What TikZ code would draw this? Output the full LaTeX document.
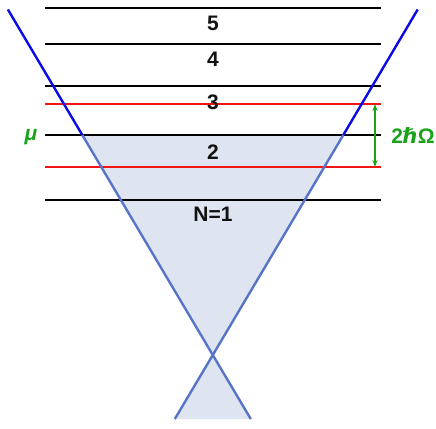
\documentclass[tikz,border=0pt]{standalone}
\usepackage{fontspec}
\setmainfont{Liberation Sans}
\newfontfamily\dejavu{DejaVu Sans}
\usetikzlibrary{arrows.meta,calc}
\definecolor{levgreen}{RGB}{26,163,26}
\definecolor{fillblue}{RGB}{223,229,240}
\definecolor{coneblue}{RGB}{88,116,200}
\definecolor{topblue}{RGB}{10,10,230}
\definecolor{levred}{RGB}{240,20,20}
\tikzset{
  level/.style={line width=2.2pt, color=black},
  shell/.style={line width=2.2pt, color=levred},
  lab/.style={font=\fontsize{21}{25}\selectfont\bfseries, text=black!93, inner sep=0pt},
  greenlab/.style={font=\fontsize{21}{25}\selectfont\bfseries, text=levgreen, inner sep=0pt}
}
\begin{document}
\begin{tikzpicture}[x=1pt, y=-1pt]
\useasboundingbox (0,0) rectangle (436,428);
%
% Cone points
\coordinate (tl) at (7.9,9.5);
\coordinate (tr) at (417.7,9.5);
\coordinate (ml) at (82.3,135);
\coordinate (mr) at (343.3,135);
\coordinate (x) at (212.8,355);
\coordinate (bl) at (174.8,419);
\coordinate (br) at (250.8,419);
% Filled part below mu
\fill[fillblue] (ml) -- (mr) -- (x) -- (br) -- (bl) -- (x) -- cycle;
% Levels
\foreach \y in {8,44,86,135,200}
  \draw[level] (45,\y) -- (381,\y);
%Red levels
\draw[shell] (45,104) coordinate (ra) -- (381,104) coordinate (rb);
\draw[shell] (45,167) coordinate (rc) -- (381,167) coordinate (rd);
% Cone lines
\draw[topblue, line width=2.4pt] (tl) -- (ml);
\draw[topblue, line width=2.4pt] (tr) -- (mr);
\draw[coneblue, line width=2.4pt] (ml) -- (x) -- (br);
\draw[coneblue, line width=2.4pt] (mr) -- (x) -- (bl);
% Labels
\node[lab] (n5) at (213,23) {5};
\node[lab] (n4) at (213,59) {4};
\node[lab] (n3) at (213,102) {3};
\node[lab] (n2) at (213,152) {2};
\node[lab] (n1) at (213,214) {N=1};
% Chemical potential
\node[greenlab] (mu) at (31,137) {\itshape μ};
% Gap
\coordinate (ga) at (375,104);
\coordinate (gb) at (375,167);
\draw[levgreen, line width=1.2pt, {Stealth[length=7pt,width=5pt]}-{Stealth[length=7pt,width=5pt]}] (ga) -- (gb);
\node[greenlab] (gap) at (413,136) {2{\dejavu\itshape ℏ}Ω};
\end{tikzpicture}
\end{document}
